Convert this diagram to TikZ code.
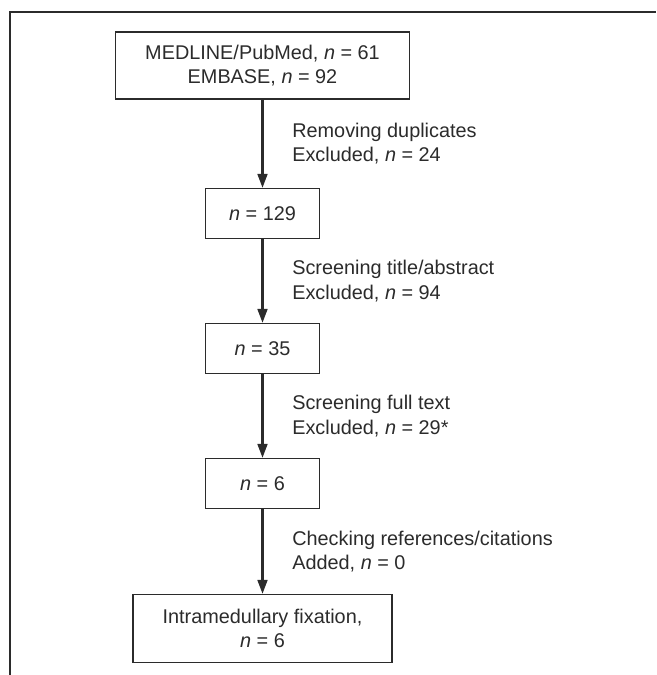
\documentclass[tikz,border=0pt]{standalone}
\usepackage{fontspec}
\setmainfont{Liberation Sans}
\usepackage{xcolor}
\usetikzlibrary{arrows.meta, positioning}
\definecolor{inkgray}{HTML}{2B2B2B}

\begin{document}
\begin{tikzpicture}[
    node distance=2.7cm,
    font=\fontsize{11.3}{14}\selectfont,
    text=inkgray,
    sourcebox/.style={rectangle, minimum width=5.88cm, minimum height=1.34cm, align=center, draw=inkgray, line width=0.6pt},
    countbox/.style={rectangle, minimum width=2.28cm, minimum height=1cm, text centered, draw=inkgray, line width=0.6pt},
    finalbox/.style={rectangle, minimum width=5.18cm, minimum height=1.36cm, align=center, draw=inkgray, line width=0.6pt},
    note/.style={anchor=west, align=left, inner xsep=0pt, xshift=0.57cm},
    arrow/.style={line width=1.5pt, draw=inkgray, -{Triangle[length=8pt,width=5.5pt]}}
]

\useasboundingbox (0,0) rectangle (13.12,-13.5);
\draw [inkgray, line width=0.9pt] (0.2,-13.5) |- (13.12,-0.24);

\node (search) [sourcebox] at (5.25,-1.31) {MEDLINE/PubMed, \textit{n} = 61\\EMBASE, \textit{n} = 92};
\node (dedup) [countbox, below of=search, yshift=-0.26cm] {\textit{n} = 129};
\node (abstract) [countbox, below of=dedup] {\textit{n} = 35};
\node (fulltext) [countbox, below of=abstract] {\textit{n} = 6};
\node (result) [finalbox, below of=fulltext, yshift=-0.2cm] {Intramedullary fixation,\\\textit{n} = 6};

\draw [arrow] (search) -- node[note] {Removing duplicates\\Excluded, \textit{n} = 24} (dedup);
\draw [arrow] (dedup) -- node[note] {Screening title/abstract\\Excluded, \textit{n} = 94} (abstract);
\draw [arrow] (abstract) -- node[note] {Screening full text\\Excluded, \textit{n} = 29*} (fulltext);
\draw [arrow] (fulltext) -- node[note] {Checking references/citations\\Added, \textit{n} = 0} (result);

\end{tikzpicture}
\end{document}
